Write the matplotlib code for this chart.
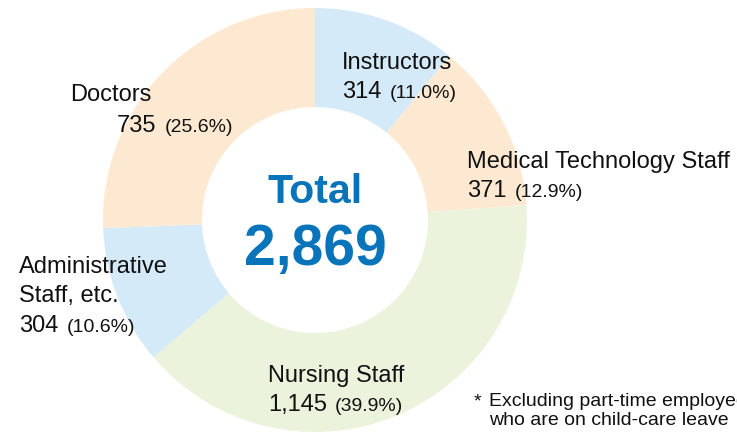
import matplotlib
matplotlib.use("Agg")
import matplotlib.pyplot as plt

plt.rcParams['font.family'] = ['Liberation Sans', 'DejaVu Sans']

categories = ["Instructors", "Medical Technology Staff", "Nursing Staff",
              "Administrative\nStaff, etc.", "Doctors"]
values = [314, 371, 1145, 304, 735]
pct_labels = ["(11.0%)", "(12.9%)", "(39.9%)", "(10.6%)", "(25.6%)"]
count_labels = ["314", "371", "1,145", "304", "735"]
total_label = "2,869"
colors = ["#d5eaf8", "#fde9d2", "#ebf3dc", "#d5eaf8", "#fde9d2"]

W, H = 737, 438
fig = plt.figure(figsize=(W / 100, H / 100), dpi=100)
ax = fig.add_axes([0, 0, 1, 1])

cx, cy, R = 315, H - 220, 212
ax.pie(values, colors=colors, startangle=90, counterclock=False,
       center=(cx, cy), radius=R, frame=True,
       wedgeprops=dict(width=R - 113, linewidth=0))
ax.set_xlim(0, W)
ax.set_ylim(0, H)
ax.set_aspect('equal')
ax.axis('off')

def Y(y):
    return H - y

# label positions (left x, baseline of name lines, baseline of count line)
name_pos = [(342, 69), (467, 168), (268, 382), (19, 273), (70, 101)]
count_pos = [(342, 98), (467, 197), (268, 411), (19, 332), (117, 132)]
line_gap = 29

fig.canvas.draw()
renderer = fig.canvas.get_renderer()
for i, cat in enumerate(categories):
    nx, ny = name_pos[i]
    for j, line in enumerate(cat.split("\n")):
        ax.text(nx, Y(ny + j * line_gap), line, fontsize=17, color="#111111",
                ha='left', va='baseline')
    px, py = count_pos[i]
    t = ax.text(px, Y(py), count_labels[i], fontsize=17, color="#111111",
                ha='left', va='baseline')
    bb = t.get_window_extent(renderer)
    ax.text(bb.x1 + 8, Y(py), pct_labels[i], fontsize=14, color="#111111",
            ha='left', va='baseline')

blue = "#0a74bb"
ax.text(cx, Y(203), "Total", fontsize=29.5, fontweight='bold', color=blue,
        ha='center', va='baseline')
ax.text(cx, Y(265), total_label, fontsize=41, fontweight='bold', color=blue,
        ha='center', va='baseline')

ax.text(474, Y(406), "*", fontsize=14, color="#111111", ha='left', va='baseline')
ax.text(489, Y(406), "Excluding part-time employees", fontsize=14,
        color="#111111", ha='left', va='baseline')
ax.text(489, Y(425), "who are on child-care leave", fontsize=14,
        color="#111111", ha='left', va='baseline')

fig.savefig("out.png", dpi=100)
